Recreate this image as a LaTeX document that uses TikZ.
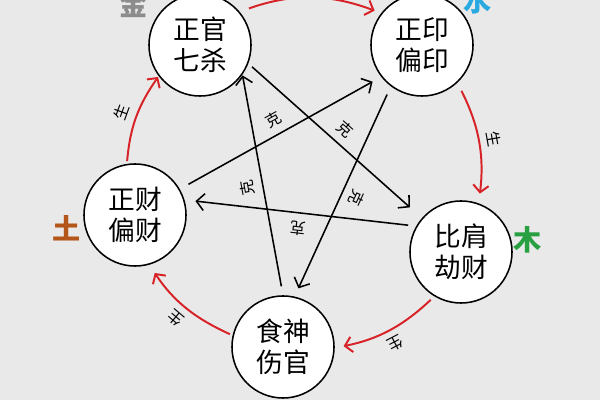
\documentclass[tikz,border=0pt]{standalone}
\usepackage{fontspec}
\setmainfont{Noto Sans CJK SC}
\usetikzlibrary{arrows.meta}

\definecolor{bgcol}{RGB}{233,233,233}
\definecolor{shengred}{RGB}{215,35,40}
\definecolor{jincol}{RGB}{140,140,140}
\definecolor{shuicol}{RGB}{40,170,225}
\definecolor{tucol}{RGB}{180,85,25}
\definecolor{mucol}{RGB}{40,160,65}

\begin{document}
\begin{tikzpicture}[x=0.025cm,y=-0.025cm,
    shen/.style={circle,draw,fill=white,line width=1.1pt,minimum size=2.55cm,
      inner sep=0pt,align=center,font=\fontsize{19}{22}\selectfont},
    wuxing/.style={font=\fontsize{20}{20}\selectfont\bfseries},
    sheng/.style={shengred,line width=1.4pt,-{Straight Barb[length=5pt,width=11pt]}},
    ke/.style={black,line width=1.1pt,-{Straight Barb[length=5.5pt,width=12pt]}},
    lbl/.style={text=black,font=\fontsize{11}{11}\selectfont,sloped,allow upside down,above=2pt}]
  \useasboundingbox (0,0) rectangle (600,400);
  \clip (0,0) rectangle (600,400);
  \fill[bgcol] (0,0) rectangle (600,400);

  % the five circles
  \node[shen] (guan) at (200,45) {正官\\七杀};
  \node[shen] (yin) at (422,45) {正印\\偏印};
  \node[shen] (jie) at (461,252) {比肩\\劫财};
  \node[shen] (shi) at (283,347) {食神\\伤官};
  \node[shen] (cai) at (135,215) {正财\\偏财};

  % elements
  \node[wuxing,text=jincol] (jin) at (134,4) {金};
  \node[wuxing,text=shuicol] (shui) at (478,1) {水};
  \node[wuxing,text=mucol] (mu) at (528,240) {木};
  \node[wuxing,text=tucol] (tu) at (67,228) {土};

  % sheng cycle
  \draw[sheng,shorten <=7pt,shorten >=5pt] (guan.40) to[bend left=20] (yin.142);
  \draw[sheng,shorten <=6.4pt,shorten >=7pt] (yin.-47) to[bend left=17]
    node[lbl] (s1) {生} (jie.70);
  \draw[sheng,shorten <=3.5pt,shorten >=6.4pt] (jie.239) to[bend left=16]
    node[lbl] (s2) {生} (shi.-1);
  \draw[sheng,shorten <=2pt,shorten >=7pt] (shi.167) to[bend left=16]
    node[lbl] (s3) {生} (cai.-74);
  \draw[sheng,shorten <=2pt,shorten >=0.7pt] (cai.99) to[bend left=15]
    node[lbl] (s4) {生} (guan.217);

  % ke star
  \draw[ke,shorten <=3.5pt,shorten >=11.4pt] (guan.-21) -- node[lbl] (k1) {克} (jie.139);
  \draw[ke,shorten <=5.7pt,shorten >=7.8pt] (jie.150) -- node[lbl] (k2) {克} (cai.17);
  \draw[ke,shorten <=7pt,shorten >=7pt] (cai.30) -- node[lbl] (k3) {克} (yin.218);
  \draw[ke,shorten <=6.4pt,shorten >=6.4pt] (yin.233) -- node[lbl] (k4) {克} (shi.77);
  \draw[ke,shorten <=6.4pt,shorten >=0.5pt] (shi.90) -- node[lbl] (k5) {克} (guan.-35);
\end{tikzpicture}
\end{document}
